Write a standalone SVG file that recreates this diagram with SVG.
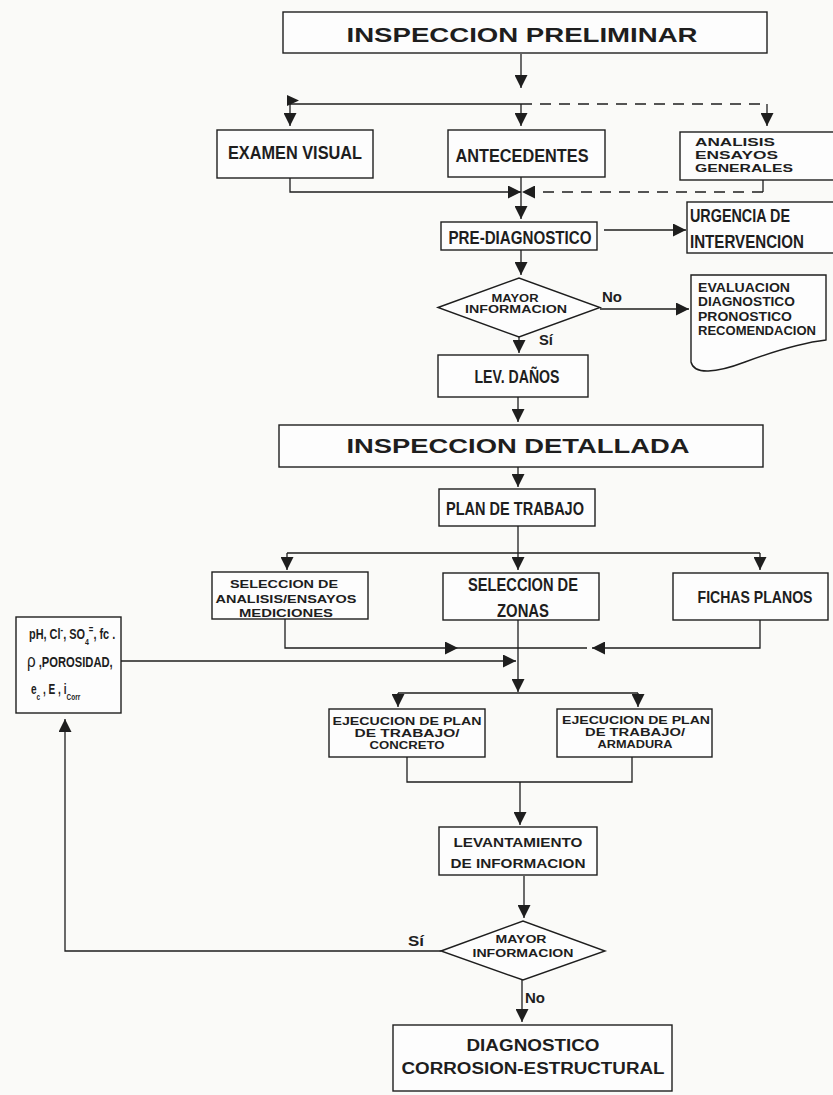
<svg xmlns="http://www.w3.org/2000/svg" width="833" height="1095" viewBox="0 0 833 1095">
<style>
.bg{fill:#fafaf8}
.box{fill:#fdfdfd;stroke:#1e1e1e;stroke-width:1.4}
.ln{fill:none;stroke:#1e1e1e;stroke-width:1.3}
.dash{stroke-dasharray:11 8}
.t{font-family:"Liberation Sans",Arial,Helvetica,sans-serif;font-weight:bold;fill:#1e1e1e;text-anchor:middle}
.n{font-family:"Liberation Sans Narrow","Liberation Sans",Arial,sans-serif}
.s{text-anchor:start}
.ah{fill:#1e1e1e;stroke:none}
</style>
<defs>
<marker id="arr" markerUnits="userSpaceOnUse" markerWidth="13" markerHeight="13" refX="13" refY="6.5" orient="auto">
<path class="ah" d="M0,0 L13,6.5 L0,13 Z"/>
</marker>
</defs>
<rect class="bg" x="0" y="0" width="833" height="1095"/>

<g id="connectors">
<path class="ln" d="M521,54 V88" marker-end="url(#arr)"/>
<path class="ln" d="M290,104 H521"/>
<path class="ln dash" d="M521,104 H767"/>
<path class="ln" d="M767,104 V126" marker-end="url(#arr)"/>
<path class="ln" d="M290,104 V126" marker-end="url(#arr)"/>
<path class="ln" d="M521,104 V126" marker-end="url(#arr)"/>
<polygon class="ah" points="287,95 299,100.5 287,106"/>
<path class="ln" d="M290,178 V192 H521" marker-end="url(#arr)"/>
<path class="ln" d="M763,180 V192"/>
<path class="ln dash" d="M763,192 H522" marker-end="url(#arr)"/>
<path class="ln" d="M521,177 V219" marker-end="url(#arr)"/>
<path class="ln" d="M604,230 H686" marker-end="url(#arr)"/>
<path class="ln" d="M521,250 V275" marker-end="url(#arr)"/>
<path class="ln" d="M600,309 H689" marker-end="url(#arr)"/>
<path class="ln" d="M519,337 V353" marker-end="url(#arr)"/>
<path class="ln" d="M518,397 V422" marker-end="url(#arr)"/>
<path class="ln" d="M518,467 V487" marker-end="url(#arr)"/>
<path class="ln" d="M518,526 V570" marker-end="url(#arr)"/>
<path class="ln" d="M287,553 H760"/>
<path class="ln" d="M287,553 V570" marker-end="url(#arr)"/>
<path class="ln" d="M760,553 V570" marker-end="url(#arr)"/>
<path class="ln" d="M285,619 V648 H458" marker-end="url(#arr)"/>
<path class="ln" d="M458,648 H587"/>
<path class="ln" d="M760,620 V648 H592" marker-end="url(#arr)"/>
<path class="ln" d="M121,661 H516" marker-end="url(#arr)"/>
<path class="ln" d="M518,620 V692" marker-end="url(#arr)"/>
<path class="ln" d="M398,693 H638"/>
<path class="ln" d="M398,693 V707" marker-end="url(#arr)"/>
<path class="ln" d="M638,693 V707" marker-end="url(#arr)"/>
<path class="ln" d="M407,757 V782 H632 V757"/>
<path class="ln" d="M520,782 V825" marker-end="url(#arr)"/>
<path class="ln" d="M524,876 V918" marker-end="url(#arr)"/>
<path class="ln" d="M441,951 H65 V719" marker-end="url(#arr)"/>
<path class="ln" d="M522,980 V1022" marker-end="url(#arr)"/>
</g>

<g id="inspeccion-preliminar">
<rect class="box" x="283" y="12" width="484" height="41"/>
<text class="t" x="522" y="42" font-size="21" textLength="351" lengthAdjust="spacingAndGlyphs">INSPECCION PRELIMINAR</text>
</g>
<g id="examen-visual">
<rect class="box" x="217" y="130" width="156" height="48"/>
<text class="t n" x="295" y="159" font-size="18" textLength="134" lengthAdjust="spacingAndGlyphs">EXAMEN VISUAL</text>
</g>
<g id="antecedentes">
<rect class="box" x="448" y="130" width="157" height="47"/>
<text class="t n" x="522" y="162" font-size="18.5" textLength="133" lengthAdjust="spacingAndGlyphs">ANTECEDENTES</text>
</g>
<g id="analisis">
<rect class="box" x="680" y="132" width="170" height="48"/>
<text class="t s" x="695" y="146" font-size="11" textLength="80" lengthAdjust="spacingAndGlyphs">ANALISIS</text>
<text class="t s" x="695" y="158.5" font-size="11" textLength="83" lengthAdjust="spacingAndGlyphs">ENSAYOS</text>
<text class="t s" x="695" y="171.5" font-size="11" textLength="98" lengthAdjust="spacingAndGlyphs">GENERALES</text>
</g>
<g id="pre-diagnostico">
<rect class="box" x="441" y="222" width="156" height="28"/>
<text class="t n" x="520" y="244" font-size="19" textLength="143" lengthAdjust="spacingAndGlyphs">PRE-DIAGNOSTICO</text>
</g>
<g id="urgencia">
<rect class="box" x="687" y="202" width="160" height="51"/>
<text class="t n s" x="690" y="222" font-size="19" textLength="100" lengthAdjust="spacingAndGlyphs">URGENCIA DE</text>
<text class="t n s" x="690" y="248" font-size="19" textLength="114" lengthAdjust="spacingAndGlyphs">INTERVENCION</text>
</g>
<g id="mayor-informacion-1">
<polygon class="box" points="438,307.5 519,278 600,307.5 519,337"/>
<text class="t" x="515" y="302" font-size="10" textLength="47" lengthAdjust="spacingAndGlyphs">MAYOR</text>
<text class="t" x="516" y="313" font-size="10" textLength="102" lengthAdjust="spacingAndGlyphs">INFORMACION</text>
<text class="t n s" x="602" y="302" font-size="15" textLength="20" lengthAdjust="spacingAndGlyphs">No</text>
<text class="t n s" x="539" y="345" font-size="15" textLength="14" lengthAdjust="spacingAndGlyphs">Sí</text>
</g>
<g id="evaluacion">
<path class="box" d="M691,275 H826 V340 C800,343 772,352 745,362 C716,373 694,375 691,362 Z"/>
<text class="t s" x="698" y="292" font-size="12" textLength="92" lengthAdjust="spacingAndGlyphs">EVALUACION</text>
<text class="t s" x="698" y="306" font-size="12" textLength="97" lengthAdjust="spacingAndGlyphs">DIAGNOSTICO</text>
<text class="t s" x="698" y="321" font-size="12" textLength="94" lengthAdjust="spacingAndGlyphs">PRONOSTICO</text>
<text class="t s" x="698" y="335" font-size="12" textLength="118" lengthAdjust="spacingAndGlyphs">RECOMENDACION</text>
</g>
<g id="lev-danos">
<rect class="box" x="438" y="355" width="150" height="42"/>
<text class="t n" x="517" y="383" font-size="18" textLength="85" lengthAdjust="spacingAndGlyphs">LEV. DAÑOS</text>
</g>
<g id="inspeccion-detallada">
<rect class="box" x="279" y="425" width="484" height="42"/>
<text class="t" x="518" y="453" font-size="21" textLength="343" lengthAdjust="spacingAndGlyphs">INSPECCION DETALLADA</text>
</g>
<g id="plan-de-trabajo">
<rect class="box" x="439" y="489" width="156" height="37"/>
<text class="t n" x="515" y="515" font-size="18" textLength="138" lengthAdjust="spacingAndGlyphs">PLAN DE TRABAJO</text>
</g>
<g id="seleccion-analisis">
<rect class="box" x="212" y="572" width="156" height="47"/>
<text class="t" x="284" y="588" font-size="11" textLength="108" lengthAdjust="spacingAndGlyphs">SELECCION DE</text>
<text class="t" x="286" y="603" font-size="11" textLength="141" lengthAdjust="spacingAndGlyphs">ANALISIS/ENSAYOS</text>
<text class="t" x="286" y="617" font-size="11" textLength="94" lengthAdjust="spacingAndGlyphs">MEDICIONES</text>
</g>
<g id="seleccion-zonas">
<rect class="box" x="443" y="573" width="156" height="47"/>
<text class="t n" x="523" y="591" font-size="19" textLength="110" lengthAdjust="spacingAndGlyphs">SELECCION DE</text>
<text class="t n" x="523" y="617" font-size="19" textLength="52" lengthAdjust="spacingAndGlyphs">ZONAS</text>
</g>
<g id="fichas-planos">
<rect class="box" x="673" y="573" width="155" height="47"/>
<text class="t" font-size="16" transform="translate(755,603) scale(0.88,1)">FICHAS PLANOS</text>
</g>
<g id="parametros">
<rect class="box" x="16" y="617" width="105" height="96"/>
<text class="t n s" font-size="14" transform="translate(29,639) scale(0.78,1)">pH, Cl<tspan font-size="10" baseline-shift="super">-</tspan>, SO<tspan font-size="9" baseline-shift="sub">4</tspan><tspan font-size="10" baseline-shift="super">=</tspan>, fc .</text>
<text class="t n s" font-size="14" transform="translate(27,667) scale(0.8,1)"><tspan font-size="19" font-weight="normal">ρ</tspan> ,POROSIDAD,</text>
<text class="t n s" font-size="14" transform="translate(31,694) scale(0.72,1)">e<tspan font-size="9" baseline-shift="sub">c</tspan> , E , i<tspan font-size="9" baseline-shift="sub">Corr</tspan></text>
</g>
<g id="ejecucion-concreto">
<rect class="box" x="329" y="709" width="156" height="48"/>
<text class="t" x="407" y="725" font-size="10.5" textLength="149" lengthAdjust="spacingAndGlyphs">EJECUCION DE PLAN</text>
<text class="t" x="407" y="737" font-size="10.5" textLength="105" lengthAdjust="spacingAndGlyphs">DE TRABAJO/</text>
<text class="t" x="407" y="749" font-size="10.5" textLength="75" lengthAdjust="spacingAndGlyphs">CONCRETO</text>
</g>
<g id="ejecucion-armadura">
<rect class="box" x="557" y="709" width="155" height="48"/>
<text class="t" x="636" y="724" font-size="10.5" textLength="148" lengthAdjust="spacingAndGlyphs">EJECUCION DE PLAN</text>
<text class="t" x="635" y="736" font-size="10.5" textLength="100" lengthAdjust="spacingAndGlyphs">DE TRABAJO/</text>
<text class="t" x="635" y="748" font-size="10.5" textLength="75" lengthAdjust="spacingAndGlyphs">ARMADURA</text>
</g>
<g id="levantamiento">
<rect class="box" x="439" y="827" width="158" height="48"/>
<text class="t" x="518" y="847" font-size="13" textLength="129" lengthAdjust="spacingAndGlyphs">LEVANTAMIENTO</text>
<text class="t" x="518" y="868" font-size="13" textLength="135" lengthAdjust="spacingAndGlyphs">DE INFORMACION</text>
</g>
<g id="mayor-informacion-2">
<polygon class="box" points="441,951 523,921 605,951 523,980"/>
<text class="t" x="521" y="943" font-size="10" textLength="51" lengthAdjust="spacingAndGlyphs">MAYOR</text>
<text class="t" x="523" y="957" font-size="10" textLength="101" lengthAdjust="spacingAndGlyphs">INFORMACION</text>
<text class="t n s" x="408" y="946" font-size="15" textLength="16" lengthAdjust="spacingAndGlyphs">Sí</text>
<text class="t n s" x="525" y="1003" font-size="15" textLength="20" lengthAdjust="spacingAndGlyphs">No</text>
</g>
<g id="diagnostico">
<rect class="box" x="393" y="1025" width="279" height="66"/>
<text class="t" x="533" y="1051" font-size="16" textLength="133" lengthAdjust="spacingAndGlyphs">DIAGNOSTICO</text>
<text class="t" x="533" y="1074" font-size="16" textLength="263" lengthAdjust="spacingAndGlyphs">CORROSION-ESTRUCTURAL</text>
</g>
</svg>
